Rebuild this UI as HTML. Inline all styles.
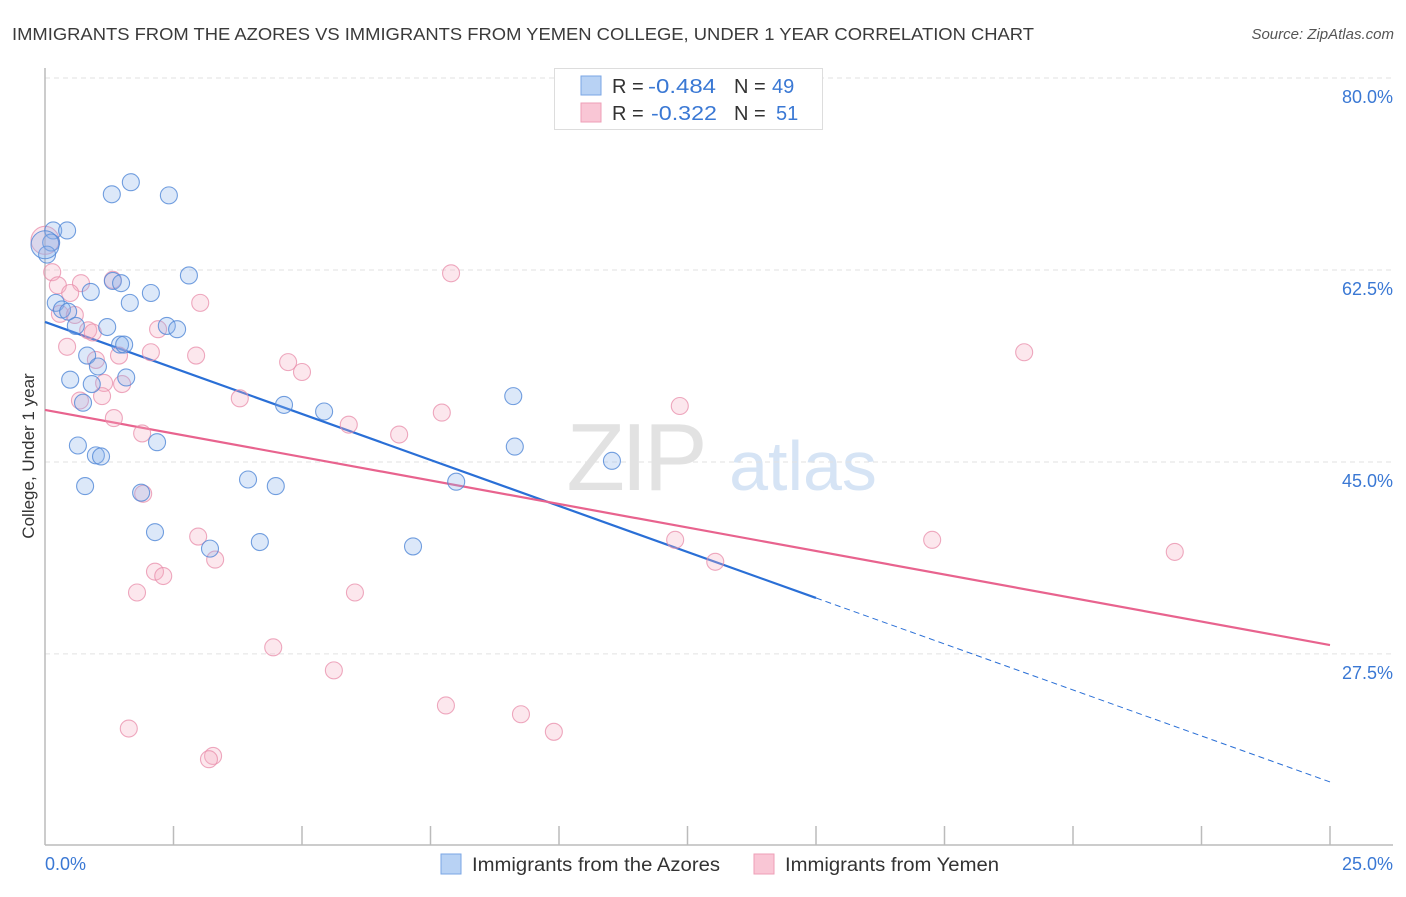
<!DOCTYPE html>
<html><head><meta charset="utf-8"><style>
body{margin:0;background:#fff;font-family:"Liberation Sans",sans-serif;}
svg text{font-family:"Liberation Sans",sans-serif;}
</style></head><body>
<svg id="chart" width="1406" height="892" xmlns="http://www.w3.org/2000/svg">
<text x="12" y="40" font-size="17.5" fill="#3a3a3a" textLength="1022" lengthAdjust="spacingAndGlyphs">IMMIGRANTS FROM THE AZORES VS IMMIGRANTS FROM YEMEN COLLEGE, UNDER 1 YEAR CORRELATION CHART</text>
<text x="1394" y="39" font-size="15" font-style="italic" fill="#555" text-anchor="end">Source: ZipAtlas.com</text>
<g>
<text x="635" y="490" font-size="96" font-family="Liberation Serif" fill="#e2e2e2" text-anchor="middle" letter-spacing="-4">ZIP</text>
<text x="803" y="490" font-size="70" fill="#d6e4f5" text-anchor="middle">atlas</text>
</g>
<g id="grid"></g>
<g id="axes"></g>
<text transform="translate(34,456) rotate(-90)" font-size="17" fill="#333" text-anchor="middle">College, Under 1 year</text>
<g id="lines"></g>
<g id="points"></g>
<g>
<rect x="554.5" y="68.5" width="268" height="61" fill="#fff" stroke="#ddd"/>
<rect x="581" y="76" width="20" height="19" fill="#b8d2f4" stroke="#7aa6e4"/>
<rect x="581" y="103" width="20" height="19" fill="#f9c6d5" stroke="#ee9fb7"/>
<text x="612" y="93" font-size="20" fill="#333">R =</text>
<text x="648" y="93" font-size="20" fill="#3a78d4" textLength="68" lengthAdjust="spacingAndGlyphs">-0.484</text>
<text x="734" y="93" font-size="20" fill="#333">N =</text>
<text x="772" y="93" font-size="20" fill="#3a78d4">49</text>
<text x="612" y="120" font-size="20" fill="#333">R =</text>
<text x="651" y="120" font-size="20" fill="#3a78d4" textLength="66" lengthAdjust="spacingAndGlyphs">-0.322</text>
<text x="734" y="120" font-size="20" fill="#333">N =</text>
<text x="776" y="120" font-size="20" fill="#3a78d4">51</text>
</g>
<g>
<rect x="441" y="854" width="20" height="20" fill="#b8d2f4" stroke="#7aa6e4"/>
<text x="472" y="871" font-size="19" fill="#333" textLength="248" lengthAdjust="spacingAndGlyphs">Immigrants from the Azores</text>
<rect x="754" y="854" width="20" height="20" fill="#f9c6d5" stroke="#ee9fb7"/>
<text x="785" y="871" font-size="19" fill="#333" textLength="214" lengthAdjust="spacingAndGlyphs">Immigrants from Yemen</text>
</g>
</svg>
<script>
const yTicks=[27.5,45,62.5,80];
const xTickLabels=["0.0%","25.0%"];
const azoresX=[1.67,1.30,2.41,0.16,0.43,0.12,0.04,2.80,1.32,1.48,0.89,2.06,0.21,1.65,0.33,0.45,0.60,1.21,2.37,2.57,1.46,1.54,0.82,1.03,0.49,1.58,0.91,0.74,4.65,5.43,9.11,0.64,0.99,1.09,2.18,9.14,11.03,3.95,4.49,0.78,1.87,8.00,2.14,3.21,4.18,7.16,0];
const azoresY=[70.5,69.4,69.3,66.1,66.1,65.0,63.9,62.0,61.5,61.3,60.5,60.4,59.5,59.5,58.9,58.7,57.4,57.3,57.4,57.1,55.7,55.7,54.7,53.7,52.5,52.7,52.1,50.4,50.2,49.6,51.0,46.5,45.6,45.5,46.8,46.4,45.1,43.4,42.8,42.8,42.2,43.2,38.6,37.1,37.7,37.3,64.8];
const yemenX=[0,0.14,0.25,0.70,0.49,3.02,1.32,0.29,0.58,0.84,0.93,2.20,1.44,0.43,2.06,2.94,0.99,4.73,5.00,1.15,1.50,1.11,0.68,3.79,1.34,1.89,5.91,6.89,7.72,7.90,19.05,12.35,1.91,2.98,3.31,2.14,2.30,1.79,6.03,12.26,13.04,17.26,21.98,4.44,5.62,7.80,9.26,9.90,1.63,3.27,3.19];
const yemenY=[65.2,62.3,61.1,61.3,60.4,59.5,61.6,58.5,58.4,57.0,56.8,57.1,54.7,55.5,55.0,54.7,54.3,54.1,53.2,52.2,52.1,51.0,50.6,50.8,49.0,47.6,48.4,47.5,49.5,62.2,55.0,50.1,42.1,38.2,36.1,35.0,34.6,33.1,33.1,37.9,35.9,37.9,36.8,28.1,26.0,22.8,22.0,20.4,20.7,18.2,17.9];
const azoresTrend=[57.76,15.83];
const yemenTrend=[49.74,28.31];
const NS="http://www.w3.org/2000/svg";
const X0=45,X1=1330,Y80=78,PPY=10.97;
function sx(v){return X0+(X1-X0)*v/25;}
function sy(v){return Y80+(80-v)*PPY;}
function mk(tag,attrs,parent){const e=document.createElementNS(NS,tag);for(const k in attrs)e.setAttribute(k,attrs[k]);parent.appendChild(e);return e;}
const grid=document.getElementById('grid'),axes=document.getElementById('axes');
yTicks.forEach(t=>{
 const l=mk('line',{x1:X0,x2:1393,y1:sy(t),y2:sy(t),stroke:'#e2e2e2','stroke-dasharray':'5,4'},grid);
 
 
 const tx=mk('text',{x:1393,y:sy(t)+25,'font-size':18,fill:'#3a78d4','text-anchor':'end'},grid);
 tx.textContent=t.toFixed(1)+'%';
 
 
});
mk('line',{x1:X0,x2:X0,y1:68,y2:845,stroke:'#bbb','stroke-width':1.5},axes);
mk('line',{x1:X0,x2:1393,y1:845,y2:845,stroke:'#bbb','stroke-width':1.5},axes);
for(let i=1;i<=10;i++){const x=sx(i*2.5);const t=mk('line',{x1:x,x2:x,y1:826,y2:845,stroke:'#bbb','stroke-width':1.5},axes);
 
 }
const xl0=mk('text',{x:45,y:870,'font-size':18,fill:'#3a78d4'},axes);xl0.textContent=xTickLabels[0];


const xl1=mk('text',{x:1393,y:870,'font-size':18,fill:'#3a78d4','text-anchor':'end'},axes);xl1.textContent=xTickLabels[1];


const pts=document.getElementById('points');
function drawPts(xs,ys,fill,stroke,name){xs.forEach((x,i)=>{const big=(x===0&&i===xs.length-1&&name==='azores-point')||(x===0&&name==='yemen-point'&&i===0);
 const c=mk('circle',{cx:sx(x),cy:sy(ys[i]),r:big?14:8.5,fill:fill,stroke:stroke,'stroke-width':1.1},pts);
 
 });}
drawPts(yemenX,yemenY,'rgba(246,175,197,0.3)','rgba(232,140,170,0.75)','yemen-point');
drawPts(azoresX,azoresY,'rgba(140,180,235,0.3)','rgba(80,135,215,0.8)','azores-point');
const lines=document.getElementById('lines');
function ty(tr,x){return tr[0]+(tr[1]-tr[0])*x/25;}
const bl=mk('line',{x1:sx(0),y1:sy(ty(azoresTrend,0)),x2:sx(15),y2:sy(ty(azoresTrend,15)),stroke:'#2a6fd6','stroke-width':2.2},lines);


const bd=mk('line',{x1:sx(15),y1:sy(ty(azoresTrend,15)),x2:sx(25),y2:sy(ty(azoresTrend,25)),stroke:'#2a6fd6','stroke-width':1,'stroke-dasharray':'6,4'},lines);


const pl=mk('line',{x1:sx(0),y1:sy(ty(yemenTrend,0)),x2:sx(25),y2:sy(ty(yemenTrend,25)),stroke:'#e8638e','stroke-width':2.2},lines);


</script>
</body></html>
